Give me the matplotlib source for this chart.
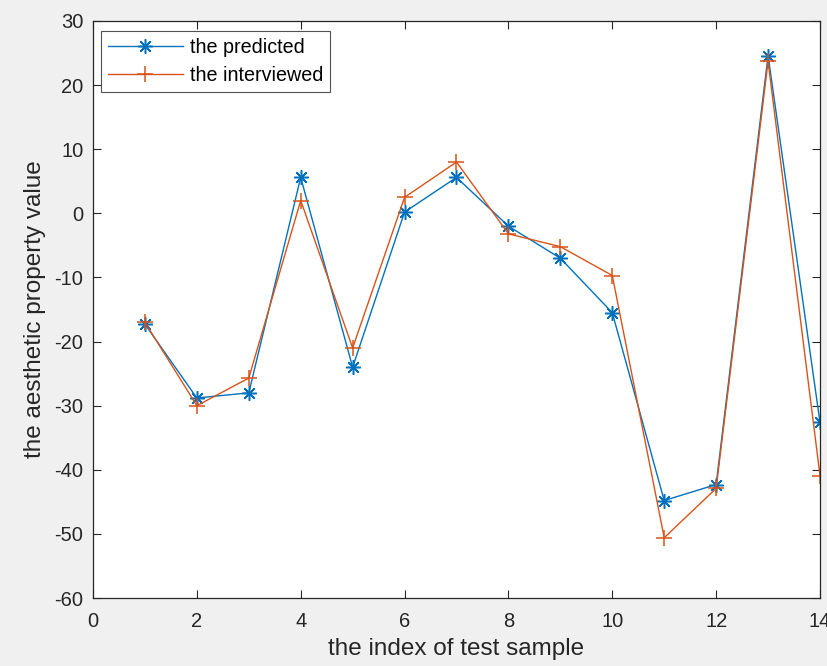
import matplotlib
matplotlib.use("Agg")
import matplotlib.pyplot as plt

idx = list(range(1, 15))
predicted = [-17.3, -28.8, -28.0, 5.6, -24.0, 0.2, 5.6, -2.0, -7.0, -15.5, -44.8, -42.3, 24.6, -32.6]
interviewed = [-17.0, -30.0, -25.7, 2.0, -21.0, 2.5, 8.0, -3.2, -5.2, -9.7, -50.6, -42.9, 23.7, -40.9]
xticks = [0, 2, 4, 6, 8, 10, 12, 14]
yticks = [-60, -50, -40, -30, -20, -10, 0, 10, 20, 30]

plt.rcParams['font.family'] = ['Liberation Sans', 'DejaVu Sans']
plt.rcParams['axes.unicode_minus'] = False

fig = plt.figure(figsize=(8.28, 6.66), dpi=100, facecolor='#f0f0f0')
ax = fig.add_axes([93/828, 1-598/666, (820-93)/828, (598-21)/666])
ax.set_facecolor('white')

ax.plot(idx, predicted, color='#0072BD', lw=1.0, marker=(8, 2, 0), ms=10.5, mew=1.1,
        label='the predicted')
ax.plot(idx, interviewed, color='#D95319', lw=1.0, marker='+', ms=11.5, mew=1.1,
        label='the interviewed')

ax.set_xlim(0, 14)
ax.set_ylim(-60, 30)
ax.set_xticks(xticks)
ax.set_yticks(yticks)
ax.tick_params(direction='in', length=6, width=0.8, top=True, right=True,
               labelsize=14.5, colors='#262626')
ax.tick_params(axis='x', pad=10)
ax.tick_params(axis='y', pad=7)
for s in ax.spines.values():
    s.set_color('#262626')
    s.set_linewidth(0.9)

ax.set_xlabel('the index of test sample', fontsize=17.5, color='#262626', labelpad=5)
ax.set_ylabel('the aesthetic property value', fontsize=17.5, color='#262626', labelpad=6)

leg = ax.legend(loc='upper left', bbox_to_anchor=(0.011, 0.983), fontsize=14.2,
                frameon=True, fancybox=False, edgecolor='#262626', handlelength=3.8,
                borderpad=0.35, labelspacing=0.48, handletextpad=0.35, borderaxespad=0)
leg.get_frame().set_linewidth(0.8)

fig.savefig('out.png', dpi=100, facecolor=fig.get_facecolor())
